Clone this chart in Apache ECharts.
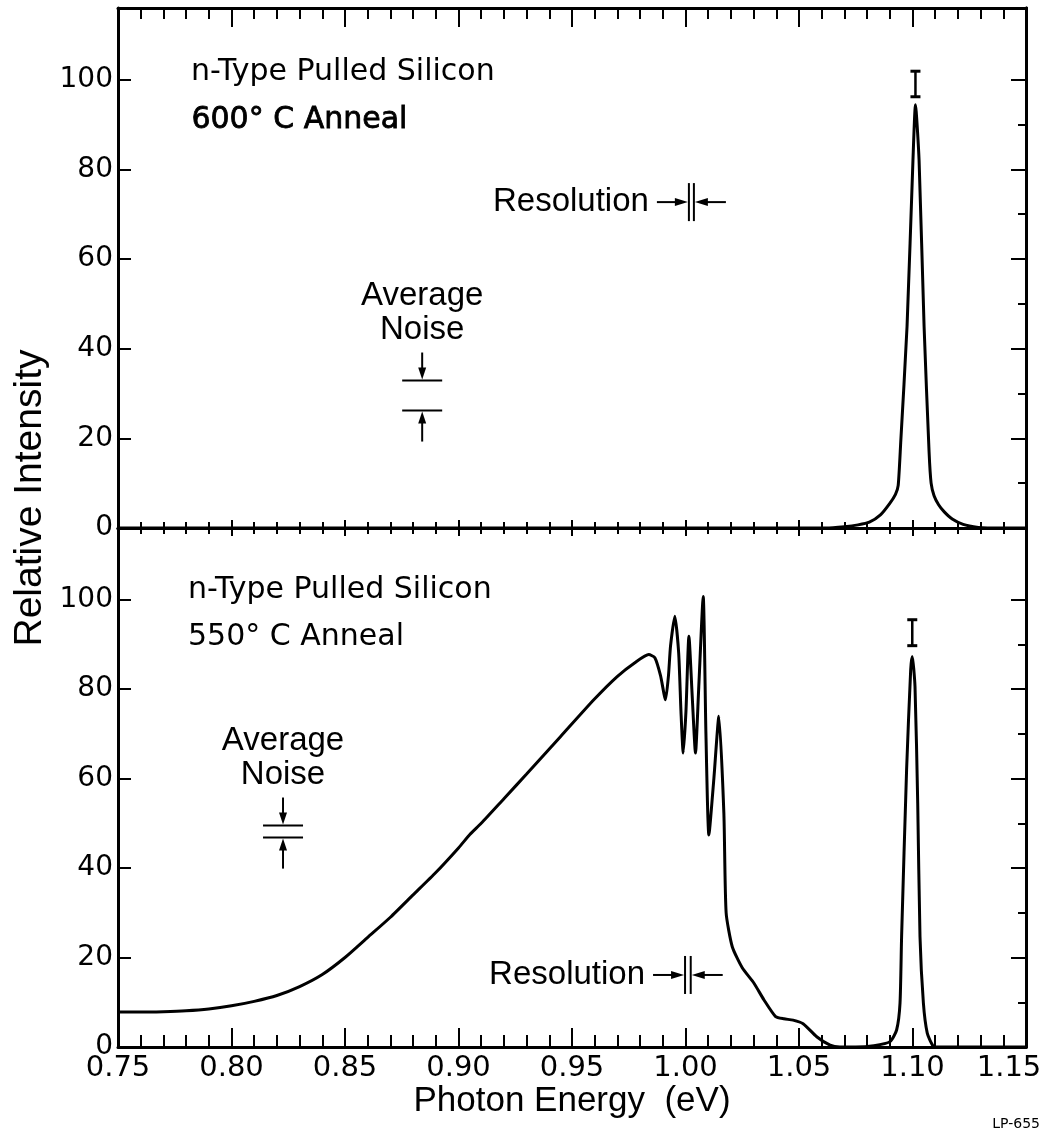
<!DOCTYPE html>
<html>
<head>
<meta charset="utf-8">
<script src="https://cdn.jsdelivr.net/npm/echarts@6/dist/echarts.min.js"></script>
<style>
  html, body { margin: 0; padding: 0; background: #fff; }
  #chart { width: 1048px; height: 1140px; }
</style>
</head>
<body>
<div id="chart"></div>
<script>
// Photoluminescence spectra of n-type pulled silicon after two anneals.

// 600 °C anneal: photon energy (eV) and relative intensity
const anneal600Energy = [0.75, 1.062, 1.070, 1.076, 1.081, 1.086, 1.090, 1.0925, 1.0937, 1.0948,
  1.0976, 1.1002, 1.1013, 1.1029, 1.1051, 1.1073, 1.1082, 1.1095, 1.1115, 1.1140, 1.1175,
  1.1223, 1.1290, 1.1330, 1.15];
const anneal600Intensity = [0, 0, 0.3, 0.7, 1.3, 3.0, 5.5, 7.5, 9.5, 19,
  45, 82, 94.4, 82, 45, 17, 10, 7.2, 5.2, 3.6, 2.0,
  0.8, 0.1, 0, 0];

// 550 °C anneal: photon energy (eV) and relative intensity
const anneal550Energy = [0.75, 0.76, 0.77, 0.78, 0.79, 0.80, 0.81, 0.82, 0.83, 0.84,
  0.85, 0.86, 0.87, 0.88, 0.89, 0.90, 0.905, 0.91, 0.92, 0.93,
  0.94, 0.945, 0.9596, 0.9699, 0.978, 0.9838, 0.9865, 0.989, 0.9912, 0.9925,
  0.9934, 0.9953, 0.997, 0.998, 0.999, 1.0002, 1.0015, 1.003, 1.0044, 1.0058,
  1.0078, 1.009, 1.0103, 1.0125, 1.0147, 1.0169, 1.0179, 1.0206, 1.025, 1.0301,
  1.0346, 1.0397, 1.0434, 1.0474, 1.0518, 1.0578, 1.0637, 1.068, 1.075, 1.083,
  1.0901, 1.093, 1.0945, 1.0952, 1.0974, 1.0992, 1.0999, 1.1011, 1.1023, 1.1033,
  1.1048, 1.1065, 1.109, 1.112, 1.15];
const anneal550Intensity = [7.8, 7.8, 7.9, 8.1, 8.5, 9.2, 10.2, 11.5, 13.5, 16.2,
  20, 24.5, 29, 34, 39, 44.5, 47.5, 50, 55.5, 61,
  66.6, 69.4, 77.6, 82.8, 86, 87.7, 87, 83, 77.6, 83,
  89.6, 96.3, 88, 75, 65.7, 75, 91.8, 78, 65.7, 80,
  100.7, 70, 47.4, 60, 73.9, 52.3, 30, 22.4, 17.7, 14.3,
  10.5, 6.8, 6.3, 6.0, 5.2, 2.3, 0.4, 0, 0, 0.3,
  1.2, 3.8, 9.8, 24.7, 62, 84.3, 87.3, 80.6, 54.5, 24.7,
  9.8, 3.1, 0.3, 0, 0];

// Error bars on the 1.10 eV peaks: [energy, low, high]
const errorBar600 = [[1.1013, 96.2, 101.9]];
const errorBar550 = [[1.0999, 89.7, 95.5]];

// Average-noise markers: [energy, lower level, upper level]
const noise600 = [[0.884, 26.2, 32.9]];
const noise550 = [[0.8227, 46.8, 49.5]];

// Resolution markers: [left energy, right energy, level]
const resolution600 = [[1.0015, 1.0037, 72.7]];
const resolution550 = [[0.9998, 1.0023, 16.1]];

// Axis ticks
const xMin = 0.75, xMax = 1.15, xStep = 0.05;
const yLabelValues = [0, 20, 40, 60, 80, 100];
const yMinorValues = [10, 30, 50, 70, 90];
const yMax = 116;

const FONT = '"DejaVu Sans", sans-serif';
const FONT_TALL = '"Liberation Sans", Arial, sans-serif';
const INK = '#000';

function zip(xs, ys) { return xs.map((x, i) => [x, ys[i]]); }

// The last energy label is nudged inwards so it stays on the page
function energyLabel(v) {
  const s = v.toFixed(2);
  return Math.abs(v - xMax) < 1e-9 ? '{edge|' + s + '}' : s;
}

function xAxisDef(gridIndex, position, majorLen, minorLen, withLabels) {
  return {
    type: 'value', gridIndex, position, min: xMin, max: xMax, interval: xStep,
    axisLine: { show: true, onZero: false, lineStyle: { color: INK, width: 3 } },
    axisTick: { show: true, inside: true, length: majorLen, lineStyle: { color: INK, width: 2 } },
    minorTick: { show: true, splitNumber: 5, length: minorLen, lineStyle: { color: INK, width: 2 } },
    splitLine: { show: false },
    axisLabel: withLabels ? {
      show: true, color: INK, fontFamily: FONT, fontSize: 29, margin: 7,
      formatter: energyLabel,
      rich: { edge: { color: INK, fontFamily: FONT, fontSize: 29, padding: [0, 34, 0, 0] } }
    } : { show: false },
    name: withLabels ? 'Photon Energy  (eV)' : '',
    nameLocation: 'middle', nameGap: 33,
    nameTextStyle: { color: INK, fontFamily: FONT_TALL, fontSize: 35 }
  };
}

function yAxisLeft(gridIndex) {
  return {
    type: 'value', gridIndex, position: 'left', min: 0, max: yMax,
    axisLine: { show: true, lineStyle: { color: INK, width: 3 } },
    axisTick: { show: true, inside: true, length: 13, customValues: yLabelValues, lineStyle: { color: INK, width: 2 } },
    axisLabel: { show: true, customValues: yLabelValues, color: INK, fontFamily: FONT, fontSize: 28, margin: 5 },
    splitLine: { show: false }
  };
}

function yAxisRight(gridIndex, values, len) {
  return {
    type: 'value', gridIndex, position: 'right', min: 0, max: yMax,
    axisLine: { show: true, lineStyle: { color: INK, width: 3 } },
    axisTick: { show: true, inside: true, length: len, customValues: values, lineStyle: { color: INK, width: 2 } },
    axisLabel: { show: false },
    splitLine: { show: false }
  };
}

function renderErrorBar(params, api) {
  const lo = api.coord([api.value(0), api.value(1)]);
  const hi = api.coord([api.value(0), api.value(2)]);
  const h = 5;
  return {
    type: 'group', children: [
      { type: 'line', shape: { x1: lo[0], y1: lo[1], x2: hi[0], y2: hi[1] }, style: { stroke: INK, lineWidth: 2.5 } },
      { type: 'line', shape: { x1: lo[0] - h, y1: lo[1], x2: lo[0] + h, y2: lo[1] }, style: { stroke: INK, lineWidth: 3 } },
      { type: 'line', shape: { x1: hi[0] - h, y1: hi[1], x2: hi[0] + h, y2: hi[1] }, style: { stroke: INK, lineWidth: 3 } }
    ]
  };
}

function renderNoise(params, api) {
  const e = api.value(0);
  const lo = api.coord([e, api.value(1)]);
  const hi = api.coord([e, api.value(2)]);
  const cx = hi[0], half = 20;
  const st = { stroke: INK, lineWidth: 2 };
  const txt = { fill: INK, font: '33px ' + FONT_TALL, align: 'center', verticalAlign: 'middle' };
  return {
    type: 'group', children: [
      { type: 'line', shape: { x1: cx - half, y1: hi[1], x2: cx + half, y2: hi[1] }, style: st },
      { type: 'line', shape: { x1: cx - half, y1: lo[1], x2: cx + half, y2: lo[1] }, style: st },
      // down arrow onto the upper level
      { type: 'line', shape: { x1: cx, y1: hi[1] - 28, x2: cx, y2: hi[1] - 8 }, style: st },
      { type: 'polygon', shape: { points: [[cx - 4, hi[1] - 13], [cx + 4, hi[1] - 13], [cx, hi[1] - 1]] }, style: { fill: INK } },
      // up arrow onto the lower level
      { type: 'line', shape: { x1: cx, y1: lo[1] + 31, x2: cx, y2: lo[1] + 8 }, style: st },
      { type: 'polygon', shape: { points: [[cx - 4, lo[1] + 13], [cx + 4, lo[1] + 13], [cx, lo[1] + 1]] }, style: { fill: INK } },
      { type: 'text', style: Object.assign({ text: 'Noise', x: cx, y: hi[1] - 51 }, txt) },
      { type: 'text', style: Object.assign({ text: 'Average', x: cx, y: hi[1] - 85 }, txt) }
    ]
  };
}

function renderResolution(params, api) {
  const y = api.value(2);
  const l = api.coord([api.value(0), y]);
  const r = api.coord([api.value(1), y]);
  const cy = l[1], bh = 19;
  const st = { stroke: INK, lineWidth: 2 };
  return {
    type: 'group', children: [
      { type: 'line', shape: { x1: l[0], y1: cy - bh, x2: l[0], y2: cy + bh }, style: st },
      { type: 'line', shape: { x1: r[0], y1: cy - bh, x2: r[0], y2: cy + bh }, style: st },
      { type: 'line', shape: { x1: l[0] - 32, y1: cy, x2: l[0] - 10, y2: cy }, style: st },
      { type: 'polygon', shape: { points: [[l[0] - 14, cy - 4], [l[0] - 14, cy + 4], [l[0] - 1, cy]] }, style: { fill: INK } },
      { type: 'line', shape: { x1: r[0] + 32, y1: cy, x2: r[0] + 10, y2: cy }, style: st },
      { type: 'polygon', shape: { points: [[r[0] + 14, cy - 4], [r[0] + 14, cy + 4], [r[0] + 1, cy]] }, style: { fill: INK } },
      { type: 'text', style: { text: 'Resolution', x: l[0] - 40, y: cy, fill: INK, font: '33px ' + FONT_TALL, align: 'right', verticalAlign: 'middle' } }
    ]
  };
}

function spectrum(gridIdx, xs, ys) {
  return {
    type: 'line', xAxisIndex: gridIdx * 2, yAxisIndex: gridIdx * 3,
    data: zip(xs, ys), showSymbol: false, smooth: 0.2,
    lineStyle: { color: INK, width: 3 }, clip: false, z: 5
  };
}

function custom(gridIdx, data, renderItem) {
  return {
    type: 'custom', xAxisIndex: gridIdx * 2, yAxisIndex: gridIdx * 3,
    data, renderItem, clip: false, z: 6
  };
}

function panelTitle(x, y, text, thick) {
  return {
    type: 'text', left: x, top: y,
    style: {
      text, fill: INK, font: '30px ' + FONT,
      stroke: thick ? INK : null, lineWidth: thick ? 0.8 : 0
    }
  };
}

const chart = echarts.init(document.getElementById('chart'), null, { renderer: 'canvas' });
chart.setOption({
  animation: false,
  backgroundColor: '#fff',
  grid: [
    { left: 118, top: 8, width: 908, height: 520, containLabel: false, outerBoundsMode: 'none' },
    { left: 118, top: 528, width: 908, height: 519, containLabel: false, outerBoundsMode: 'none' }
  ],
  xAxis: [
    xAxisDef(0, 'bottom', 8, 6, false),
    xAxisDef(0, 'top', 19, 11, false),
    xAxisDef(1, 'top', 8, 6, false),
    xAxisDef(1, 'bottom', 19, 12, true)
  ],
  yAxis: [
    yAxisLeft(0), yAxisRight(0, yLabelValues, 15), yAxisRight(0, yMinorValues, 8),
    yAxisLeft(1), yAxisRight(1, yLabelValues, 15), yAxisRight(1, yMinorValues, 8)
  ],
  series: [
    spectrum(0, anneal600Energy, anneal600Intensity),
    spectrum(1, anneal550Energy, anneal550Intensity),
    custom(0, errorBar600, renderErrorBar),
    custom(1, errorBar550, renderErrorBar),
    custom(0, noise600, renderNoise),
    custom(1, noise550, renderNoise),
    custom(0, resolution600, renderResolution),
    custom(1, resolution550, renderResolution)
  ],
  graphic: [
    panelTitle(191, 57, 'n-Type Pulled Silicon', false),
    panelTitle(191, 105, '600° C Anneal', true),
    panelTitle(188, 575, 'n-Type Pulled Silicon', false),
    panelTitle(188, 622, '550° C Anneal', false),
    {
      type: 'text', x: 30, y: 498, rotation: Math.PI / 2,
      style: { text: 'Relative Intensity', fill: INK, font: '39px ' + FONT_TALL, align: 'center', verticalAlign: 'middle' }
    },
    {
      type: 'text', right: 8, top: 1117,
      style: { text: 'LP-655', fill: INK, font: '14px ' + FONT }
    }
  ]
});
</script>
</body>
</html>
